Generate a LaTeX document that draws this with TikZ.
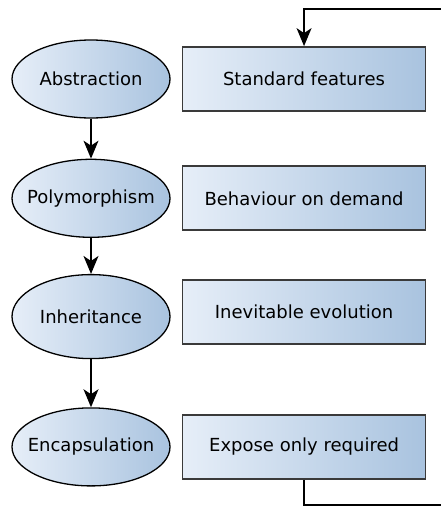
\documentclass[tikz,border=0pt]{standalone}
\usepackage{fontspec}
\setmainfont{DejaVu Sans}
\usepackage{tikz}
\usetikzlibrary{arrows.meta, positioning, shapes.geometric}

\definecolor{fillleft}{HTML}{E6EEF8}
\definecolor{fillright}{HTML}{A9C3DF}
\definecolor{boxline}{HTML}{3A3A3A}

\begin{document}
\begin{tikzpicture}[x=1pt, y=-1pt, node distance=40pt,
    oval/.style={ellipse, draw=black, line width=1.3pt, left color=fillleft, right color=fillright,
        minimum width=158pt, minimum height=78pt, inner xsep=-12pt, inner ysep=0pt,
        font=\fontsize{18}{21}\selectfont},
    panel/.style={rectangle, draw=boxline, line width=1.8pt, left color=fillleft, right color=fillright,
        minimum width=243pt, minimum height=64pt, inner sep=0pt,
        font=\fontsize{18}{21}\selectfont},
    flow/.style={line width=1.3pt, -{Stealth[length=18pt, width=15pt, inset=5pt]}}]
    \clip (0,0) rectangle (441,506);

    \node (abs) [oval] at (91,79) {Abstraction};
    \node (poly) [oval, below=40pt of abs] {Polymorphism};
    \node (inh) [oval, minimum height=84pt, below=36pt of poly] {Inheritance};
    \node (enc) [oval, below=48pt of inh] {Encapsulation};

    \node (std) [panel, right=11pt of abs] {Standard features};
    \node (dem) [panel, right=11pt of poly] {Behaviour on demand};
    \node (evo) [panel, right=11pt of inh, yshift=5pt] {Inevitable evolution};
    \node (exp) [panel, right=11pt of enc] {Expose only required};

    \draw[flow] (abs) -- (poly);
    \draw[flow] (poly) -- (inh);
    \draw[flow] (inh) -- (enc);

    \coordinate (loopbot) at (460,505);
    \coordinate (looptop) at (460,9);
    \draw[flow] (exp.south) |- (loopbot) -- (looptop) -| (std.north);

\end{tikzpicture}
\end{document}
